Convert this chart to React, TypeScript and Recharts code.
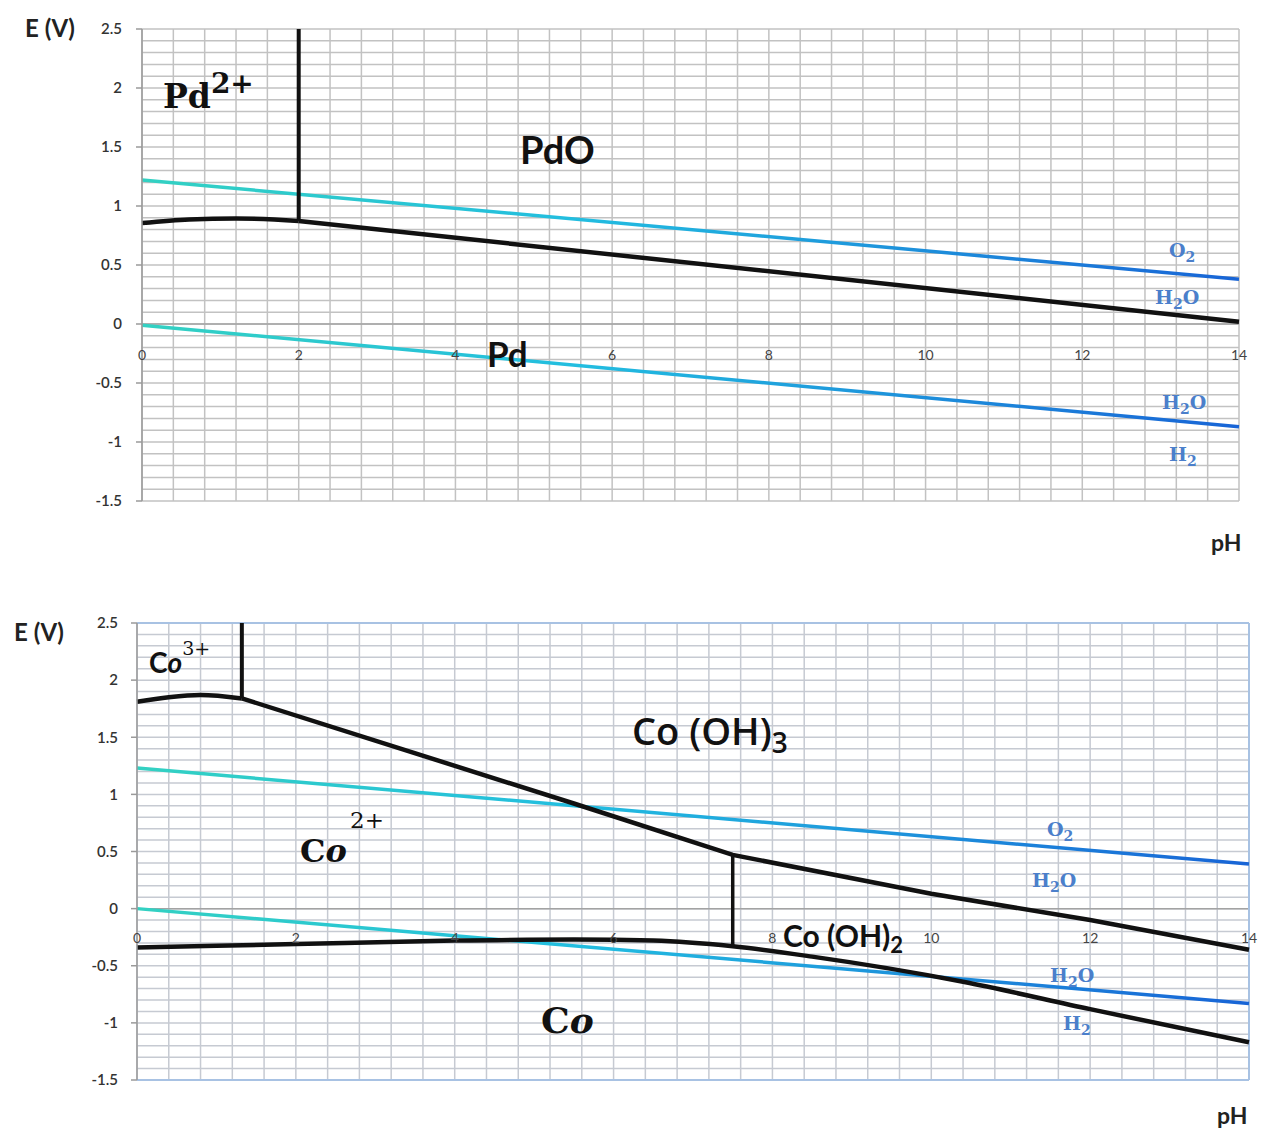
import { Line, LineChart, ReferenceLine, XAxis, YAxis } from 'recharts';

// axis ticks
const PH_TICKS = [0, 2, 4, 6, 8, 10, 12, 14];
const E_TICKS = [2.5, 2, 1.5, 1, 0.5, 0, -0.5, -1, -1.5];
// fine grid: every 0.4 pH and every 0.1 V
const GRID_PH = Array.from({ length: 36 }, (_, i) => Math.round(i * 4) / 10);
const GRID_E = Array.from({ length: 41 }, (_, i) => Math.round(-15 + i) / 10);

// Pd diagram
const pdO2Line = [
  { ph: 0, e: 1.22 },
  { ph: 14, e: 0.38 },
];
const pdH2Line = [
  { ph: 0, e: -0.01 },
  { ph: 14, e: -0.87 },
];
const pdPdOCap = [
  { ph: 0, e: 0.855 },
  { ph: 0.6, e: 0.885 },
  { ph: 1.2, e: 0.895 },
  { ph: 2, e: 0.873 },
];
const pdPdOSlope = [
  { ph: 2, e: 0.873 },
  { ph: 14, e: 0.02 },
];
const pd2PdOBoundary = [
  { ph: 2, e: 0.873 },
  { ph: 2, e: 2.5 },
];

// Co diagram
const coO2Line = [
  { ph: 0, e: 1.23 },
  { ph: 14, e: 0.39 },
];
const coH2Line = [
  { ph: 0, e: 0 },
  { ph: 14, e: -0.83 },
];
const co3Co2Cap = [
  { ph: 0, e: 1.81 },
  { ph: 0.4, e: 1.85 },
  { ph: 0.8, e: 1.87 },
  { ph: 1.32, e: 1.84 },
];
const coOH3Slope = [
  { ph: 1.32, e: 1.84 },
  { ph: 5.5, e: 0.92 },
  { ph: 7.5, e: 0.47 },
  { ph: 10, e: 0.13 },
  { ph: 12, e: -0.1 },
  { ph: 14, e: -0.36 },
];
const coLowerBoundary = [
  { ph: 0, e: -0.34 },
  { ph: 2, e: -0.31 },
  { ph: 4, e: -0.28 },
  { ph: 5.5, e: -0.27 },
  { ph: 6.5, e: -0.28 },
  { ph: 7.5, e: -0.33 },
  { ph: 8.5, e: -0.42 },
  { ph: 10.4, e: -0.64 },
  { ph: 12, e: -0.88 },
  { ph: 14, e: -1.17 },
];
const co3Co2Boundary = [
  { ph: 1.32, e: 1.84 },
  { ph: 1.32, e: 2.5 },
];
const co2CoOH2Boundary = [
  { ph: 7.5, e: 0.47 },
  { ph: 7.5, e: -0.33 },
];

const W = 1263;
const SANS = 'Lato, "Open Sans", sans-serif';
const SERIF = '"DejaVu Serif", serif';
const WATER_BLUE = '#4b7fcb';

type Pt = { ph: number; e: number };
type Curve = { data: Pt[]; type: 'monotone' | 'linear'; width?: number };

interface DiagramProps {
  id: string;
  height: number;
  margin: { top: number; right: number; left: number; bottom: number };
  zeroLabelY: number;
  tickMargin: number;
  gridColor: string;
  frameColor?: string;
  water: Pt[][];
  curves: Curve[];
}

function Diagram({ id, height, margin, zeroLabelY, tickMargin, gridColor, frameColor, water, curves }: DiagramProps) {
  const gradId = `water-${id}`;
  return (
    <LineChart width={W} height={height} margin={margin}>
      <defs>
        <linearGradient id={gradId} x1="0" y1="0" x2="1" y2="0">
          <stop offset="0%" stopColor="#33d1c2" />
          <stop offset="40%" stopColor="#22bde0" />
          <stop offset="100%" stopColor="#1864d6" />
        </linearGradient>
      </defs>
      <XAxis
        type="number"
        dataKey="ph"
        domain={[0, 14]}
        ticks={PH_TICKS}
        interval={0}
        height={30}
        axisLine={false}
        tickLine={false}
        tick={(p: any) => (
          <text
            x={p.x}
            y={zeroLabelY}
            textAnchor="middle"
            dominantBaseline="central"
            fontFamily={SANS}
            fontSize={14}
            fill="#444"
          >
            {p.payload.value}
          </text>
        )}
      />
      <YAxis
        type="number"
        domain={[-1.5, 2.5]}
        ticks={E_TICKS}
        interval={0}
        width={60}
        axisLine={{ stroke: '#9a9a9a', strokeWidth: 1.5 }}
        tickLine={{ stroke: '#9a9a9a', strokeWidth: 1.5 }}
        tickSize={6}
        tickMargin={tickMargin}
        tick={{ fill: '#333', fontSize: 15, fontFamily: SANS, fontWeight: 600 }}
      />
      {GRID_PH.map((v) => (
        <ReferenceLine key={`gx${v}`} x={v} stroke={gridColor} strokeWidth={1.5} />
      ))}
      {GRID_E.map((v) => (
        <ReferenceLine key={`gy${v}`} y={v} stroke={gridColor} strokeWidth={1.5} />
      ))}
      <ReferenceLine y={0} stroke="#a3a3a3" strokeWidth={1.5} />
      {frameColor && <ReferenceLine y={2.5} stroke={frameColor} strokeWidth={2} />}
      {frameColor && <ReferenceLine y={-1.5} stroke={frameColor} strokeWidth={2} />}
      {frameColor && <ReferenceLine x={14} stroke={frameColor} strokeWidth={2} />}
      {water.map((d, i) => (
        <Line
          key={`w${i}`}
          data={d}
          dataKey="e"
          type="linear"
          stroke={`url(#${gradId})`}
          strokeWidth={3.5}
          dot={false}
          activeDot={false}
          isAnimationActive={false}
        />
      ))}
      {curves.map((c, i) => (
        <Line
          key={`c${i}`}
          data={c.data}
          dataKey="e"
          type={c.type}
          stroke="#111"
          strokeWidth={c.width ?? 4.5}
          dot={false}
          activeDot={false}
          isAnimationActive={false}
        />
      ))}
    </LineChart>
  );
}

function WaterLabel({ x, y, parts }: { x: number; y: number; parts: string[] }) {
  // parts alternate: normal, subscript, normal ...
  return (
    <text x={x} y={y} fontFamily={SERIF} fontWeight="bold" fontSize={19} fill={WATER_BLUE}>
      {parts.map((s, i) =>
        i % 2 === 1 ? (
          <tspan key={i} fontSize={14} dy={5}>
            {s}
          </tspan>
        ) : (
          <tspan key={i} dy={i === 0 ? 0 : -5}>
            {s}
          </tspan>
        ),
      )}
    </text>
  );
}

export default function App() {
  return (
    <div style={{ position: 'absolute', left: 0, top: 0, width: W, height: 1128, background: '#fff' }}>
      {/* Pd–H2O */}
      <div style={{ position: 'absolute', left: 0, top: 0 }}>
        <Diagram
          id="pd"
          height={560}
          margin={{ top: 29, right: 24, left: 82, bottom: 29 }}
          zeroLabelY={354}
          tickMargin={14}
          gridColor="#c2c2c2"
          water={[pdO2Line, pdH2Line]}
          curves={[
            { data: pdPdOCap, type: 'monotone' },
            { data: pdPdOSlope, type: 'linear' },
            { data: pd2PdOBoundary, type: 'linear', width: 4 },
          ]}
        />
        <svg width={W} height={560} style={{ position: 'absolute', left: 0, top: 0, pointerEvents: 'none' }}>
          <text x={25} y={37} fontFamily={SANS} fontWeight="bold" fontSize={24} fill="#222">
            E (V)
          </text>
          <text x={1211} y={551} fontFamily={SANS} fontWeight="bold" fontSize={23} fill="#222">
            pH
          </text>
          <text x={163} y={108} fontFamily={SERIF} fontWeight="bold" fontSize={33} fill="#111">
            Pd
            <tspan fontSize={28} dy={-15}>
              2+
            </tspan>
          </text>
          <text x={520} y={164} fontFamily={SANS} fontWeight="bold" fontSize={38} fill="#111">
            PdO
          </text>
          <text x={487} y={367} fontFamily={SANS} fontWeight="bold" fontSize={35} fill="#111">
            Pd
          </text>
          <WaterLabel x={1169} y={257} parts={['O', '2']} />
          <WaterLabel x={1155} y={304} parts={['H', '2', 'O']} />
          <WaterLabel x={1162} y={409} parts={['H', '2', 'O']} />
          <WaterLabel x={1169} y={461} parts={['H', '2']} />
        </svg>
      </div>

      {/* Co–H2O */}
      <div style={{ position: 'absolute', left: 0, top: 590 }}>
        <Diagram
          id="co"
          height={538}
          margin={{ top: 33, right: 14, left: 77, bottom: 18 }}
          zeroLabelY={347}
          tickMargin={13}
          gridColor="#c6cad2"
          frameColor="#a8c2e3"
          water={[coO2Line, coH2Line]}
          curves={[
            { data: co3Co2Cap, type: 'monotone' },
            { data: coOH3Slope, type: 'linear' },
            { data: coLowerBoundary, type: 'monotone' },
            { data: co3Co2Boundary, type: 'linear', width: 4 },
            { data: co2CoOH2Boundary, type: 'linear', width: 3.5 },
          ]}
        />
        <svg width={W} height={538} style={{ position: 'absolute', left: 0, top: 0, pointerEvents: 'none' }}>
          <text x={14} y={51} fontFamily={SANS} fontWeight="bold" fontSize={24} fill="#222">
            E (V)
          </text>
          <text x={1217} y={534} fontFamily={SANS} fontWeight="bold" fontSize={23} fill="#222">
            pH
          </text>
          <text x={149} y={83} fontFamily={SANS} fontWeight="bold" fontSize={28} fill="#111">
            C<tspan fontStyle="italic">o</tspan>
            <tspan fontFamily={SERIF} fontWeight="normal" fontSize={19} dy={-18}>
              3+
            </tspan>
          </text>
          <text x={300} y={272} fontFamily={SERIF} fontWeight="bold" fontSize={32} fill="#111">
            C<tspan fontStyle="italic">o</tspan>
          </text>
          <text x={350} y={238} fontFamily={SERIF} fontSize={23} fill="#111">
            2+
          </text>
          <text x={632} y={155} fontFamily={'"Open Sans", Lato, sans-serif'} fontWeight={600} fontSize={38} fill="#111">
            Co (OH)
            <tspan fontSize={28} dy={8}>
              3
            </tspan>
          </text>
          <text x={783} y={357} fontFamily={SANS} fontWeight="bold" fontSize={30} fill="#111">
            Co (OH)
            <tspan fontSize={22} dy={6}>
              2
            </tspan>
          </text>
          <text x={541} y={443} fontFamily={SERIF} fontWeight="bold" fontSize={36} fill="#111">
            C<tspan fontStyle="italic">o</tspan>
          </text>
          <WaterLabel x={1047} y={246} parts={['O', '2']} />
          <WaterLabel x={1032} y={297} parts={['H', '2', 'O']} />
          <WaterLabel x={1050} y={392} parts={['H', '2', 'O']} />
          <WaterLabel x={1063} y={440} parts={['H', '2']} />
        </svg>
      </div>
    </div>
  );
}
